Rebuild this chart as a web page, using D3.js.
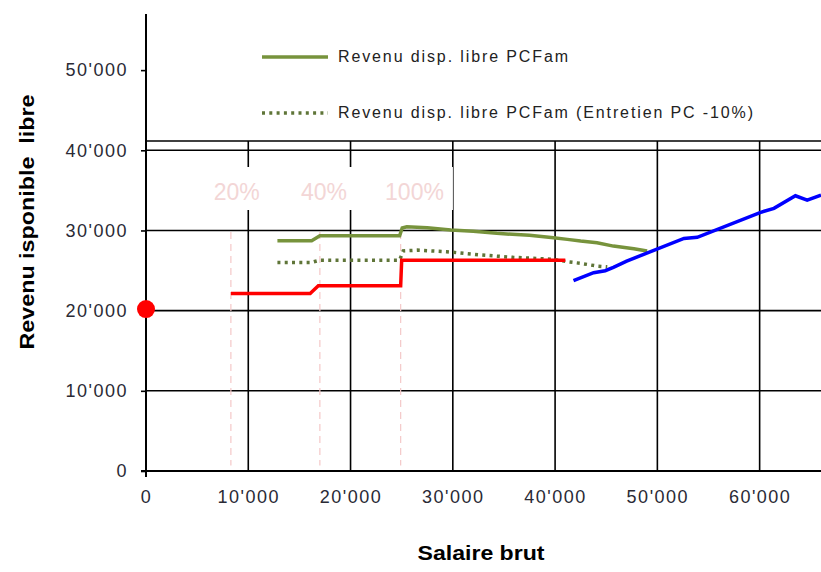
<!DOCTYPE html>
<html>
<head>
<meta charset="utf-8">
<script src="https://cdn.jsdelivr.net/npm/d3@7"></script>
<style>
  body { margin: 0; background: #fff; }
  svg { display: block; font-family: "Liberation Sans", Arial, sans-serif; }
</style>
</head>
<body>
<svg id="chart" width="821" height="572"></svg>
<script>
// salaire brut / revenu disponible libre
var xTicks = [0, 10000, 20000, 30000, 40000, 50000, 60000];
var yTicks = [0, 10000, 20000, 30000, 40000, 50000];
var thresholds = [8300, 17000, 24900];
var thresholdLabels = ['20%', '40%', '100%'];

var redSeries = [[8300, 22150], [16050, 22150], [16850, 23100], [24900, 23100],
                 [25000, 26300], [41000, 26300]];
var greenSeries = [[12850, 28720], [16200, 28720], [17000, 29340], [24800, 29340],
                   [25050, 30300], [25500, 30450], [27500, 30350], [29800, 30050],
                   [32000, 29900], [34300, 29640], [37500, 29390], [39850, 29090],
                   [41200, 28890], [42500, 28680], [44100, 28470], [45700, 28050],
                   [47700, 27720], [49000, 27430]];
var dottedSeries = [[12850, 26020], [16200, 26020], [17000, 26300], [24800, 26300],
                    [25150, 27450], [26500, 27550], [29400, 27350], [32700, 26950],
                    [35900, 26650], [39850, 26400], [41200, 26100], [42500, 25900],
                    [44100, 25560], [45100, 25470]];
var blueSeries = [[41800, 23730], [43770, 24730], [44900, 24980], [45700, 25400],
                  [47000, 26180], [52600, 29010], [53900, 29140], [60100, 32260],
                  [61400, 32760], [63500, 34330], [64650, 33790], [66000, 34410]];
var dotPoint = [0, 20200];

var legendNames = ['Revenu disp. libre PCFam', 'Revenu disp. libre PCFam (Entretien PC -10%)'];

var svg = d3.select('svg#chart');

var x = d3.scaleLinear().domain([0, 66000]).range([146, 821]);
var y = d3.scaleLinear().domain([0, 57000]).range([471, 14]);

var loc = d3.formatLocale({ decimal: '.', thousands: "'", grouping: [3], currency: ['', ''] });
var fmt = loc.format(',');

// grid
svg.append('g').selectAll('line.h')
    .data(yTicks.filter(function (d) { return d > 0; }))
    .enter().append('line')
    .attr('x1', x(0)).attr('x2', 821)
    .attr('y1', function (d) { return y(d); })
    .attr('y2', function (d) { return y(d); })
    .attr('stroke', '#000').attr('stroke-width', 1.6);
svg.append('g').selectAll('line.v')
    .data(xTicks.filter(function (d) { return d > 0; }))
    .enter().append('line')
    .attr('y1', y(0)).attr('y2', y(57000))
    .attr('x1', function (d) { return x(d); })
    .attr('x2', function (d) { return x(d); })
    .attr('stroke', '#000').attr('stroke-width', 1.6);

// legend box covering the top
svg.append('rect')
    .attr('x', x(0) + 1).attr('y', 0)
    .attr('width', 821 - x(0)).attr('height', 141)
    .attr('fill', '#fff');
svg.append('line')
    .attr('x1', x(0)).attr('x2', 821)
    .attr('y1', 141).attr('y2', 141)
    .attr('stroke', '#000').attr('stroke-width', 1.6);

var legend = svg.append('g');
legend.append('line')
    .attr('x1', 262).attr('x2', 328).attr('y1', 57).attr('y2', 57)
    .attr('stroke', '#77933c').attr('stroke-width', 3.5);
legend.append('line')
    .attr('x1', 262).attr('x2', 328).attr('y1', 113).attr('y2', 113)
    .attr('stroke', '#5f7538').attr('stroke-width', 3.5)
    .attr('stroke-dasharray', '3,4.3');
legend.selectAll('text')
    .data(legendNames)
    .enter().append('text')
    .attr('x', 338)
    .attr('y', function (d, i) { return 62 + 56 * i; })
    .attr('font-size', 16)
    .attr('fill', '#222')
    .attr('textLength', function (d, i) { return i === 0 ? 230 : 415; })
    .attr('lengthAdjust', 'spacing')
    .text(function (d) { return d; });

// axes
var yAxis = svg.append('g')
    .attr('transform', 'translate(' + x(0) + ',0)')
    .call(d3.axisLeft(y).tickValues(yTicks).tickSize(5).tickPadding(13).tickFormat(fmt));
yAxis.select('.domain').remove();
yAxis.selectAll('line').attr('stroke', '#000').attr('stroke-width', 1.6);
yAxis.selectAll('text')
    .attr('font-size', 18).attr('fill', '#2a2a35')
    .attr('letter-spacing', 1.5)
    .attr('font-family', '"Liberation Sans", Arial, sans-serif');

var xAxis = svg.append('g')
    .attr('transform', 'translate(0,' + y(0) + ')')
    .call(d3.axisBottom(x).tickValues(xTicks).tickSize(0).tickPadding(19).tickFormat(fmt));
xAxis.select('.domain').remove();
xAxis.selectAll('text')
    .attr('font-size', 18).attr('fill', '#2a2a35')
    .attr('letter-spacing', 1.5)
    .attr('font-family', '"Liberation Sans", Arial, sans-serif');

svg.append('line')
    .attr('x1', x(0)).attr('x2', x(0)).attr('y1', y(57000)).attr('y2', y(0) + 6)
    .attr('stroke', '#000').attr('stroke-width', 2);
svg.append('line')
    .attr('x1', x(0) - 5).attr('x2', 821).attr('y1', y(0)).attr('y2', y(0))
    .attr('stroke', '#000').attr('stroke-width', 2);

// threshold labels with white boxes
var labels = svg.append('g').selectAll('g')
    .data(thresholdLabels)
    .enter().append('g');
var labelCenters = [236.7, 324, 414.5];
labels.append('text')
    .attr('x', function (d, i) { return labelCenters[i]; })
    .attr('y', 200)
    .attr('text-anchor', 'middle')
    .attr('font-size', 23)
    .attr('fill', '#f3d6d6')
    .text(function (d) { return d; });
labels.each(function () {
    var g = d3.select(this);
    var b = g.select('text').node().getBBox();
    g.insert('rect', 'text')
        .attr('x', b.x - 9).attr('y', 167)
        .attr('width', b.width + 18).attr('height', 43)
        .attr('fill', '#fff');
});

// dashed threshold lines
svg.append('g').selectAll('line')
    .data(thresholds)
    .enter().append('line')
    .attr('x1', function (d) { return x(d); })
    .attr('x2', function (d) { return x(d); })
    .attr('y1', y(29800)).attr('y2', y(700))
    .attr('stroke', '#f4c8c8').attr('stroke-width', 1.2)
    .attr('stroke-dasharray', '7,5');

// series
var line = d3.line()
    .x(function (d) { return x(d[0]); })
    .y(function (d) { return y(d[1]); });

svg.append('path').datum(greenSeries)
    .attr('d', line).attr('fill', 'none')
    .attr('stroke', '#77933c').attr('stroke-width', 3.5);
svg.append('path').datum(dottedSeries)
    .attr('d', line).attr('fill', 'none')
    .attr('stroke', '#5f7538').attr('stroke-width', 3.5)
    .attr('stroke-dasharray', '3,4.3');
svg.append('path').datum(redSeries)
    .attr('d', line).attr('fill', 'none')
    .attr('stroke', '#ff0000').attr('stroke-width', 3.5);
svg.append('path').datum(blueSeries)
    .attr('d', line).attr('fill', 'none')
    .attr('stroke', '#0000ff').attr('stroke-width', 3.5);

svg.append('circle')
    .attr('cx', x(dotPoint[0])).attr('cy', y(dotPoint[1]))
    .attr('r', 9).attr('fill', '#ff0000');

// axis titles
svg.append('text')
    .attr('x', 481).attr('y', 560)
    .attr('text-anchor', 'middle')
    .attr('font-size', 20).attr('font-weight', 'bold')
    .attr('textLength', 127).attr('lengthAdjust', 'spacingAndGlyphs')
    .text('Salaire brut');
svg.append('text')
    .attr('transform', 'translate(34,222) rotate(-90)')
    .attr('text-anchor', 'middle')
    .attr('font-size', 21).attr('font-weight', 'bold')
    .attr('textLength', 255).attr('lengthAdjust', 'spacingAndGlyphs')
    .style('white-space', 'pre')
    .text('Revenu isponible  libre');
</script>
</body>
</html>
